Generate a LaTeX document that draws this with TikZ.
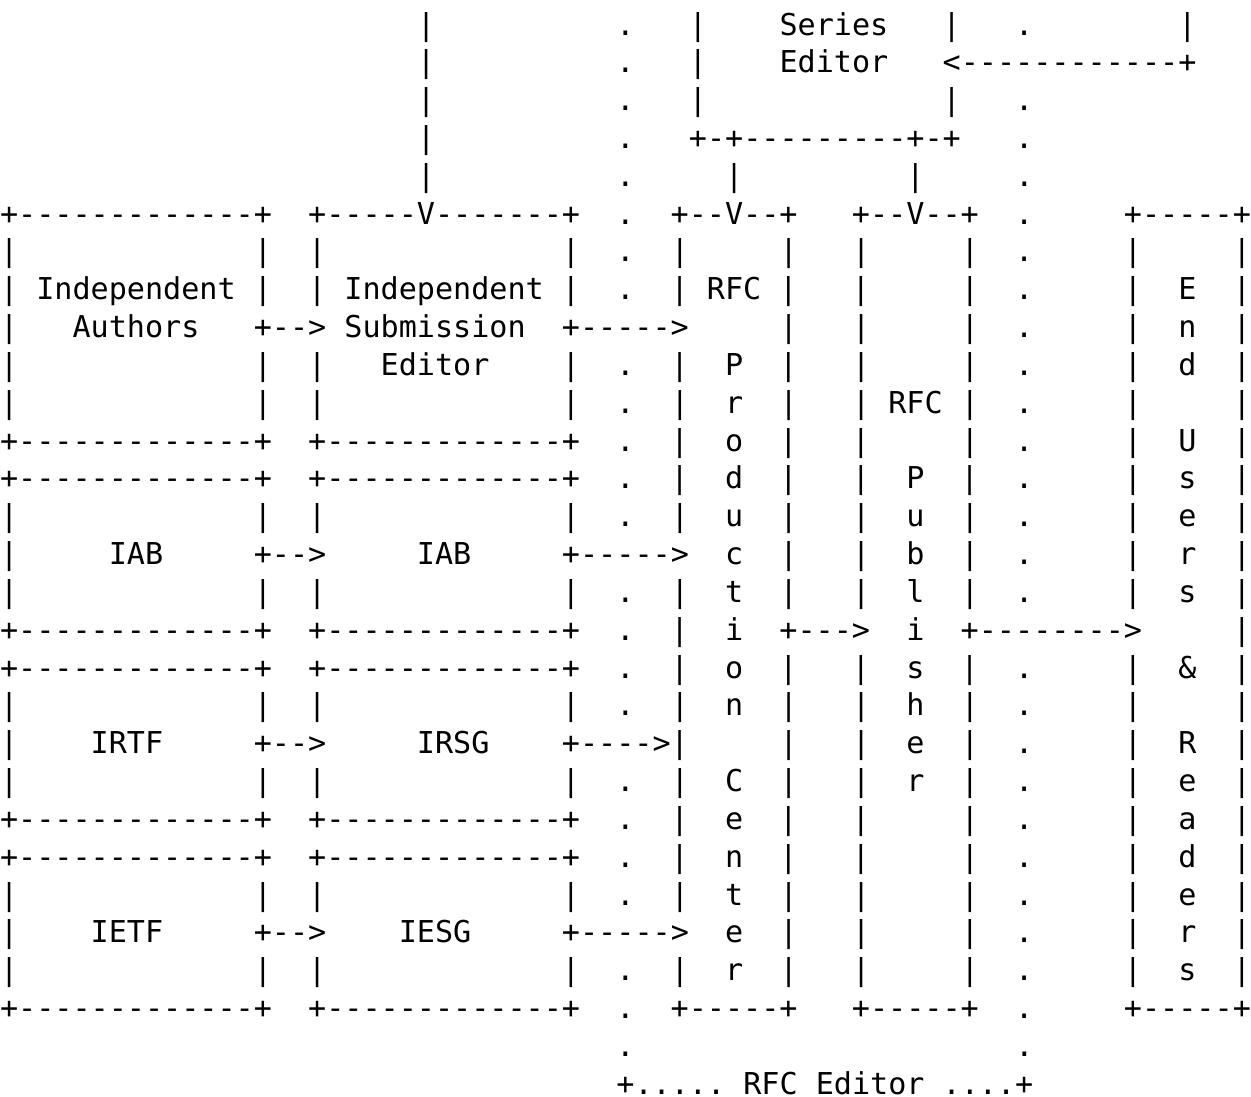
\documentclass[tikz,border=0pt]{standalone}
\usepackage{fontspec}
\setmonofont{DejaVu Sans Mono}
\tikzset{%
  row/.style={anchor=base west,inner sep=0pt,outer sep=0pt,
    font=\ttfamily\fontsize{10pt}{12pt}\selectfont}
}
\begin{document}
\begin{tikzpicture}[x=6.021pt,y=12.562pt]
  \useasboundingbox (0,0) rectangle (69,-29);
  \begin{scope}[yshift=-11.62pt]
  % Series editor
  \node[row] (r0) at (23,0) {|~~~~~~~~~~.~~~|~~~~Series~~~|~~~.~~~~~~~~|};
  \node[row] (r1) at (23,-1) {|~~~~~~~~~~.~~~|~~~~Editor~~~<------------+};
  \node[row] (r2) at (23,-2) {|~~~~~~~~~~.~~~|~~~~~~~~~~~~~|~~~.};
  \node[row] (r3) at (23,-3) {|~~~~~~~~~~.~~~+-+---------+-+~~~.};
  \node[row] (r4) at (23,-4) {|~~~~~~~~~~.~~~~~|~~~~~~~~~|~~~~~.};
  % Independent stream
  \node[row] (r5) at (0,-5) {+-------------+~~+-----V-------+~~.~~+--V--+~~~+--V--+~~.~~~~~+-----+};
  \node[row] (r6) at (0,-6) {|~~~~~~~~~~~~~|~~|~~~~~~~~~~~~~|~~.~~|~~~~~|~~~|~~~~~|~~.~~~~~|~~~~~|};
  \node[row] (r7) at (0,-7) {|~Independent~|~~|~Independent~|~~.~~|~RFC~|~~~|~~~~~|~~.~~~~~|~~E~~|};
  \node[row] (r8) at (0,-8) {|~~~Authors~~~+-->~Submission~~+----->~~~~~|~~~|~~~~~|~~.~~~~~|~~n~~|};
  \node[row] (r9) at (0,-9) {|~~~~~~~~~~~~~|~~|~~~Editor~~~~|~~.~~|~~P~~|~~~|~~~~~|~~.~~~~~|~~d~~|};
  \node[row] (r10) at (0,-10) {|~~~~~~~~~~~~~|~~|~~~~~~~~~~~~~|~~.~~|~~r~~|~~~|~RFC~|~~.~~~~~|~~~~~|};
  \node[row] (r11) at (0,-11) {+-------------+~~+-------------+~~.~~|~~o~~|~~~|~~~~~|~~.~~~~~|~~U~~|};
  % IAB stream
  \node[row] (r12) at (0,-12) {+-------------+~~+-------------+~~.~~|~~d~~|~~~|~~P~~|~~.~~~~~|~~s~~|};
  \node[row] (r13) at (0,-13) {|~~~~~~~~~~~~~|~~|~~~~~~~~~~~~~|~~.~~|~~u~~|~~~|~~u~~|~~.~~~~~|~~e~~|};
  \node[row] (r14) at (0,-14) {|~~~~~IAB~~~~~+-->~~~~~IAB~~~~~+----->~~c~~|~~~|~~b~~|~~.~~~~~|~~r~~|};
  \node[row] (r15) at (0,-15) {|~~~~~~~~~~~~~|~~|~~~~~~~~~~~~~|~~.~~|~~t~~|~~~|~~l~~|~~.~~~~~|~~s~~|};
  \node[row] (r16) at (0,-16) {+-------------+~~+-------------+~~.~~|~~i~~+--->~~i~~+-------->~~~~~|};
  % IRTF stream
  \node[row] (r17) at (0,-17) {+-------------+~~+-------------+~~.~~|~~o~~|~~~|~~s~~|~~.~~~~~|~~\&~~|};
  \node[row] (r18) at (0,-18) {|~~~~~~~~~~~~~|~~|~~~~~~~~~~~~~|~~.~~|~~n~~|~~~|~~h~~|~~.~~~~~|~~~~~|};
  \node[row] (r19) at (0,-19) {|~~~~IRTF~~~~~+-->~~~~~IRSG~~~~+---->|~~~~~|~~~|~~e~~|~~.~~~~~|~~R~~|};
  \node[row] (r20) at (0,-20) {|~~~~~~~~~~~~~|~~|~~~~~~~~~~~~~|~~.~~|~~C~~|~~~|~~r~~|~~.~~~~~|~~e~~|};
  \node[row] (r21) at (0,-21) {+-------------+~~+-------------+~~.~~|~~e~~|~~~|~~~~~|~~.~~~~~|~~a~~|};
  % IETF stream
  \node[row] (r22) at (0,-22) {+-------------+~~+-------------+~~.~~|~~n~~|~~~|~~~~~|~~.~~~~~|~~d~~|};
  \node[row] (r23) at (0,-23) {|~~~~~~~~~~~~~|~~|~~~~~~~~~~~~~|~~.~~|~~t~~|~~~|~~~~~|~~.~~~~~|~~e~~|};
  \node[row] (r24) at (0,-24) {|~~~~IETF~~~~~+-->~~~~IESG~~~~~+----->~~e~~|~~~|~~~~~|~~.~~~~~|~~r~~|};
  \node[row] (r25) at (0,-25) {|~~~~~~~~~~~~~|~~|~~~~~~~~~~~~~|~~.~~|~~r~~|~~~|~~~~~|~~.~~~~~|~~s~~|};
  \node[row] (r26) at (0,-26) {+-------------+~~+-------------+~~.~~+-----+~~~+-----+~~.~~~~~+-----+};
  % RFC editor
  \node[row] (r27) at (34,-27) {.~~~~~~~~~~~~~~~~~~~~~.};
  \node[row] (r28) at (34,-28) {+.....~RFC~Editor~....+};
  \end{scope}
\end{tikzpicture}
\end{document}
